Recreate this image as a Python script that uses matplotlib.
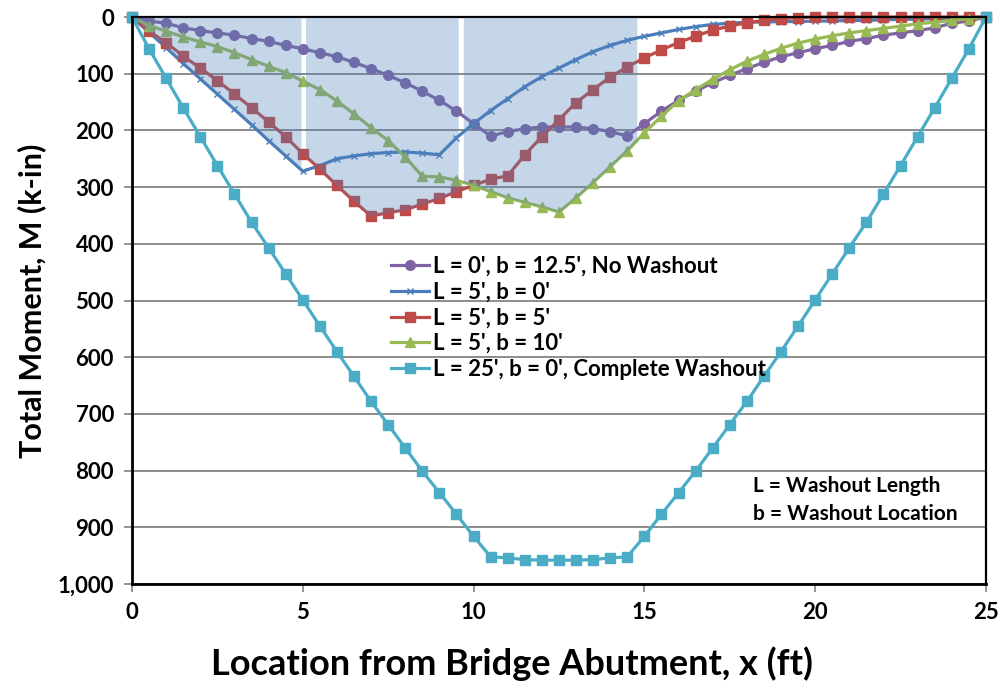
import numpy as np
import matplotlib.pyplot as plt
from matplotlib.ticker import FuncFormatter

plt.rcParams['font.family'] = ['Lato', 'DejaVu Sans']
plt.rcParams['font.weight'] = 'bold'

# location from abutment (ft), one reading every 0.5 ft
x = np.arange(0, 25.5, 0.5)

# total moment M (k-in)
m_nowash = [0, 7, 11, 19, 24, 28, 32, 38, 43, 50, 56,
            63, 70, 80, 91, 103, 116, 131, 147, 166, 188,
            210, 202, 197, 194, 194, 194, 197, 202, 210, 188,
            166, 147, 131, 116, 103, 91, 80, 70, 63, 56,
            50, 43, 38, 32, 28, 24, 19, 11, 7, 0]
m_b0 = [0, 27, 54, 82, 109, 136, 163, 190, 218, 245, 272,
        262, 250, 245, 241, 239, 238, 240, 243, 213, 188,
        165, 144, 123, 105, 90, 75, 61, 50, 41, 34,
        28, 22, 17, 13, 11, 9, 9, 8, 8, 7,
        7, 6, 6, 5, 4, 4, 3, 2, 1, 0]
m_b5 = [0, 25, 45, 69, 90, 112, 136, 160, 185, 211, 241,
        268, 297, 325, 351, 345, 340, 330, 320, 308, 297,
        286, 280, 243, 211, 181, 151, 128, 106, 88, 72,
        58, 45, 34, 23, 16, 10, 6, 3, 1, 0,
        0, 0, 0, 0, 0, 0, 0, 0, 0, 0]
m_b10 = [0, 15, 25, 35, 44, 52, 63, 75, 87, 98, 113,
         128, 148, 171, 195, 218, 247, 281, 282, 288, 297,
         308, 319, 327, 335, 344, 319, 292, 264, 236, 204,
         175, 148, 128, 110, 93, 78, 66, 55, 46, 39,
         33, 28, 24, 20, 16, 12, 9, 6, 3, 0]
m_full = [0, 56, 108, 160, 211, 262, 312, 362, 407, 453, 499,
          545, 590, 634, 678, 719, 760, 801, 839, 877, 916,
          952, 954, 957, 958, 958, 958, 957, 954, 952, 916,
          877, 839, 801, 760, 719, 678, 634, 590, 545, 499,
          453, 407, 362, 312, 262, 211, 160, 108, 56, 0]

labels = ["L = 0', b = 12.5', No Washout", "L = 5', b = 0'", "L = 5', b = 5'",
          "L = 5', b = 10'", "L = 25', b = 0', Complete Washout"]

fig = plt.figure(figsize=(10.02, 6.89), dpi=100)
ax = fig.add_axes([0.1317, 0.1524, 0.8523, 0.8229])

#series styles
styles = [dict(color='#7F63A2', marker='o', ms=7, mec='#7F63A2'),
          dict(color='#4A7EBB', marker='x', ms=5, mew=1.0),
          dict(color='#BE4B48', marker='s', ms=7, mec='#BE4B48'),
          dict(color='#98B954', marker='^', ms=7, mec='#98B954'),
          dict(color='#4BACC6', marker='s', ms=7, mec='#4BACC6')]
series = [m_nowash, m_b0, m_b5, m_b10, m_full]
for m, st, lab in zip(series, styles, labels):
    ax.plot(x, m, lw=2.3, label=lab, clip_on=False, zorder=2, **st)

#washout zones shaded over the curves
shade = [(0.0, 4.95, m_b0), (5.08, 9.55, m_b5), (9.7, 14.78, m_b10)]
for x0, x1, m in shade:
    xs = np.union1d(np.linspace(x0, x1, 100), x[(x > x0) & (x < x1)])
    ax.fill_between(xs, 0, np.interp(xs, x, m), color='#4F81BD', alpha=0.32, lw=0, zorder=3)

ax.set_xlim(0, 25)
ax.set_ylim(1000, 0)
ax.set_xticks(range(0, 26, 5))
ax.set_yticks(range(0, 1001, 100))
ax.yaxis.set_major_formatter(FuncFormatter(lambda v, p: '{:,.0f}'.format(v)))
ax.yaxis.grid(True, color='#8C8C8C', lw=1.4)
ax.tick_params(axis='both', labelsize=16, colors='black', pad=7)
ax.tick_params(axis='both', which='major', color='#8C8C8C', length=6, width=1.3)
for s in ['left', 'bottom']:
    ax.spines[s].set_linewidth(2.0)
for s in ['top', 'right']:
    ax.spines[s].set_linewidth(1.6)

ax.set_xlabel('Location from Bridge Abutment, x (ft)', fontsize=26, fontweight='bold')
ax.xaxis.set_label_coords(0.445, -0.11)
ax.set_ylabel('Total Moment, M (k-in)', fontsize=22, fontweight='bold', labelpad=8)

leg = ax.legend(loc='upper left', bbox_to_anchor=(0.293, 0.594), frameon=False, fontsize=16,
                handlelength=1.7, handletextpad=0.2, labelspacing=0.21, borderaxespad=0)

ax.text(0.727, 0.148, 'L = Washout Length\nb = Washout Location', transform=ax.transAxes,
        fontsize=15, fontweight='bold', ha='left', va='center', linespacing=1.5)

fig.savefig('out.png', dpi=100)
